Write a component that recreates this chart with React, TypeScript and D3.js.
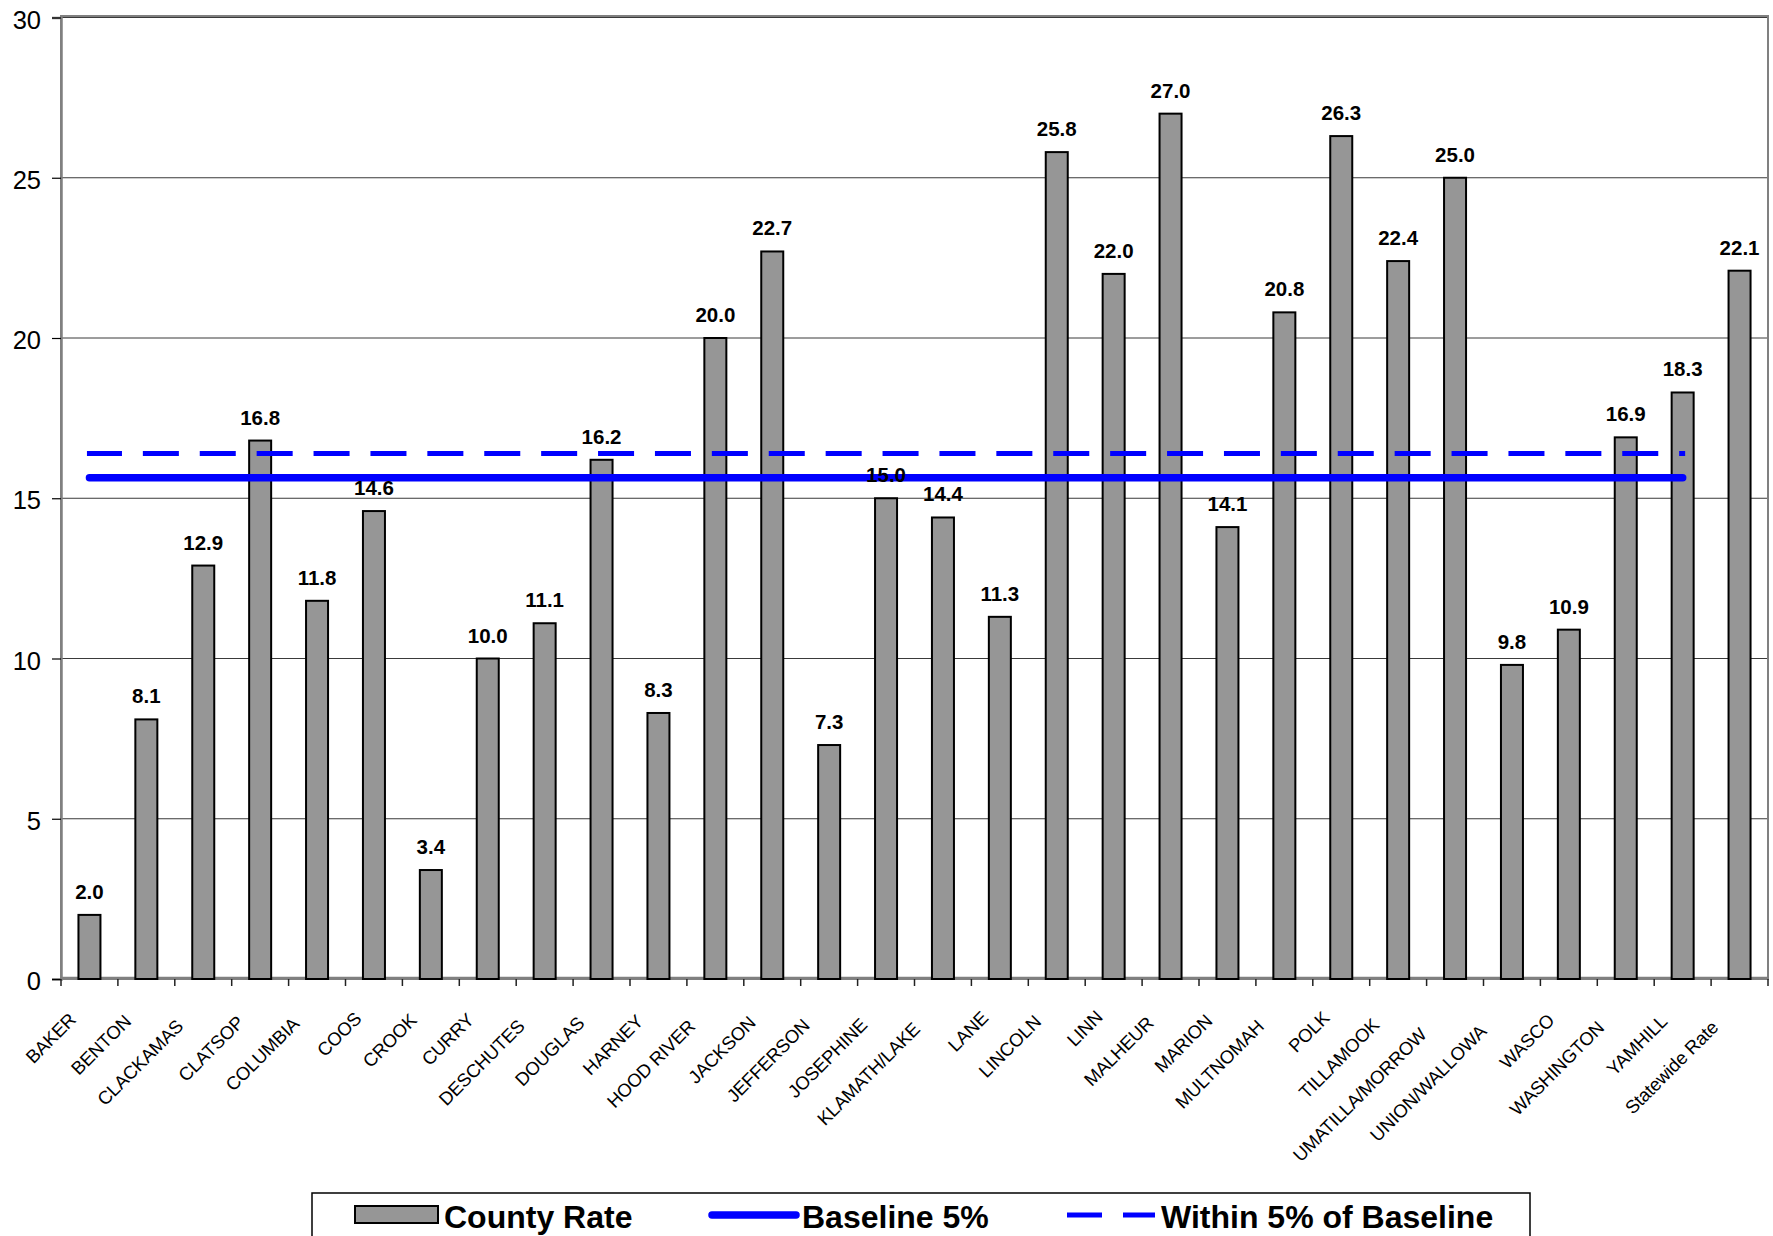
import React, { useEffect, useRef } from "react";
import * as d3 from "d3";

const categories = [
  "BAKER", "BENTON", "CLACKAMAS", "CLATSOP", "COLUMBIA", "COOS", "CROOK", "CURRY",
  "DESCHUTES", "DOUGLAS", "HARNEY", "HOOD RIVER", "JACKSON", "JEFFERSON", "JOSEPHINE",
  "KLAMATH/LAKE", "LANE", "LINCOLN", "LINN", "MALHEUR", "MARION", "MULTNOMAH", "POLK",
  "TILLAMOOK", "UMATILLA/MORROW", "UNION/WALLOWA", "WASCO", "WASHINGTON", "YAMHILL",
  "Statewide Rate",
];

const countyRates = [
  2.0, 8.1, 12.9, 16.8, 11.8, 14.6, 3.4, 10.0, 11.1, 16.2, 8.3, 20.0, 22.7, 7.3, 15.0,
  14.4, 11.3, 25.8, 22.0, 27.0, 14.1, 20.8, 26.3, 22.4, 25.0, 9.8, 10.9, 16.9, 18.3, 22.1,
];

const baselineValues: (number | null)[] = [
  15.64, 15.64, 15.64, 15.64, 15.64, 15.64, 15.64, 15.64, 15.64, 15.64,
  15.64, 15.64, 15.64, 15.64, 15.64, 15.64, 15.64, 15.64, 15.64, 15.64,
  15.64, 15.64, 15.64, 15.64, 15.64, 15.64, 15.64, 15.64, 15.64, null,
];

const withinValues: (number | null)[] = [
  16.4, 16.4, 16.4, 16.4, 16.4, 16.4, 16.4, 16.4, 16.4, 16.4,
  16.4, 16.4, 16.4, 16.4, 16.4, 16.4, 16.4, 16.4, 16.4, 16.4,
  16.4, 16.4, 16.4, 16.4, 16.4, 16.4, 16.4, 16.4, 16.4, null,
];

const yTicks = [0, 5, 10, 15, 20, 25, 30];

const legendLabels = ["County Rate", "Baseline 5%", "Within 5% of Baseline"];

const FONT = "'Liberation Sans', Arial, Helvetica, sans-serif";
const BLUE = "#0000ff";

export default function App() {
  const ref = useRef<SVGSVGElement>(null);

  useEffect(() => {
    const W = 1773, H = 1236;
    const L = 61, R = 1768, T = 17.5, B = 979;
    const svg = d3.select(ref.current);
    svg.selectAll("*").remove();
    svg.attr("width", W).attr("height", H);

    svg.append("rect").attr("width", W).attr("height", H).attr("fill", "#fff");

    const x = d3.scaleBand<string>().domain(categories).range([L, R]).padding(0);
    const y = d3.scaleLinear().domain([0, 30]).range([B, T]);
    const bw = x.bandwidth();
    const cx = (c: string) => (x(c) as number) + bw / 2;

    // gridlines
    svg.append("g")
      .selectAll("line")
      .data(yTicks.filter((t) => t > 0))
      .join("line")
      .attr("x1", L).attr("x2", R)
      .attr("y1", (d) => y(d)).attr("y2", (d) => y(d))
      .attr("stroke", "#3a3a3a").attr("stroke-width", 1);

    // plot area border
    svg.append("rect")
      .attr("x", L).attr("y", T - 1.5)
      .attr("width", R - L).attr("height", B - T + 1.5)
      .attr("fill", "none").attr("stroke", "#808080").attr("stroke-width", 2);

    // y axis
    const yAxis = d3.axisLeft(y).tickValues(yTicks).tickSize(9).tickPadding(11)
      .tickFormat((d) => String(d));
    const gy = svg.append("g").attr("transform", `translate(${L},0)`).call(yAxis);
    gy.select(".domain").attr("stroke", "#808080").attr("stroke-width", 2.5);
    gy.selectAll(".tick line").attr("stroke", "#000").attr("stroke-width", 1.2);
    gy.selectAll(".tick text")
      .attr("font-family", FONT).attr("font-size", 25.5).attr("fill", "#000")
      .attr("dy", "0.42em");

    // x axis line
    svg.append("line")
      .attr("x1", L).attr("x2", R).attr("y1", B - 1).attr("y2", B - 1)
      .attr("stroke", "#808080").attr("stroke-width", 2.5);

    // x ticks at band boundaries
    const boundaries = categories.map((c) => x(c) as number).concat([R]);
    svg.append("g")
      .selectAll("line")
      .data(boundaries)
      .join("line")
      .attr("x1", (d) => d).attr("x2", (d) => d)
      .attr("y1", B).attr("y2", B + 7)
      .attr("stroke", "#222").attr("stroke-width", 1.5);

    // bars
    const barW = 22;
    svg.append("g")
      .selectAll("rect")
      .data(countyRates)
      .join("rect")
      .attr("x", (_, i) => cx(categories[i]) - barW / 2)
      .attr("y", (d) => y(d))
      .attr("width", barW)
      .attr("height", (d) => B - y(d))
      .attr("fill", "#969696")
      .attr("stroke", "#000")
      .attr("stroke-width", 2);

    // baseline lines
    const line = d3.line<number | null>()
      .defined((d) => d !== null)
      .x((_, i) => cx(categories[i]))
      .y((d) => y(d as number));

    svg.append("path")
      .attr("d", line(baselineValues))
      .attr("fill", "none").attr("stroke", BLUE)
      .attr("stroke-width", 7.5).attr("stroke-linecap", "round");

    const dashVis = bw * 0.633;
    svg.append("path")
      .attr("d", line(withinValues))
      .attr("fill", "none").attr("stroke", BLUE)
      .attr("stroke-width", 5).attr("stroke-linecap", "square")
      .attr("stroke-dasharray", `${dashVis - 5} ${bw - dashVis + 5}`)
      .attr("stroke-dashoffset", 1);

    // data labels
    svg.append("g")
      .selectAll("text")
      .data(countyRates)
      .join("text")
      .attr("x", (_, i) => cx(categories[i]))
      .attr("y", (d) => y(d) - 16)
      .attr("text-anchor", "middle")
      .attr("font-family", FONT).attr("font-size", 20.5).attr("font-weight", "bold")
      .attr("fill", "#000")
      .text((d) => d.toFixed(1));

    // x labels (rotated)
    const xl = svg.append("g")
      .selectAll("text")
      .data(categories)
      .join("text")
      .attr("font-family", FONT).attr("font-size", 18.5).attr("fill", "#000")
      .attr("letter-spacing", -0.2)
      .attr("text-anchor", "end")
      .text((d) => d);
    xl.each(function (d) {
      const node = this as SVGTextElement;
      const len = node.getComputedTextLength();
      const qx = cx(d) - 4.5;
      const qy = 1013;
      const s = 0.18 * len * Math.SQRT1_2;
      node.setAttribute("transform", `translate(${qx - s},${qy + s}) rotate(-45)`);
    });

    // legend
    const lg = svg.append("g");
    lg.append("rect")
      .attr("x", 312).attr("y", 1193).attr("width", 1218).attr("height", 70)
      .attr("fill", "#fff").attr("stroke", "#000").attr("stroke-width", 1.5);
    lg.append("rect")
      .attr("x", 355).attr("y", 1206).attr("width", 83).attr("height", 17)
      .attr("fill", "#969696").attr("stroke", "#000").attr("stroke-width", 2);
    lg.append("line")
      .attr("x1", 712).attr("x2", 796).attr("y1", 1215).attr("y2", 1215)
      .attr("stroke", BLUE).attr("stroke-width", 7.5).attr("stroke-linecap", "round");
    lg.append("line")
      .attr("x1", 1067).attr("x2", 1155).attr("y1", 1215).attr("y2", 1215)
      .attr("stroke", BLUE).attr("stroke-width", 5).attr("stroke-dasharray", "35 21");
    const lx = [444, 802, 1161];
    lg.selectAll("text.lt")
      .data(legendLabels)
      .join("text")
      .attr("class", "lt")
      .attr("x", (_, i) => lx[i]).attr("y", 1228)
      .attr("font-family", FONT).attr("font-size", 32).attr("font-weight", "bold")
      .attr("fill", "#000")
      .text((d) => d);
  }, []);

  return (
    <svg
      ref={ref}
      width={1773}
      height={1236}
      style={{ position: "absolute", left: 0, top: 0, display: "block" }}
    />
  );
}
